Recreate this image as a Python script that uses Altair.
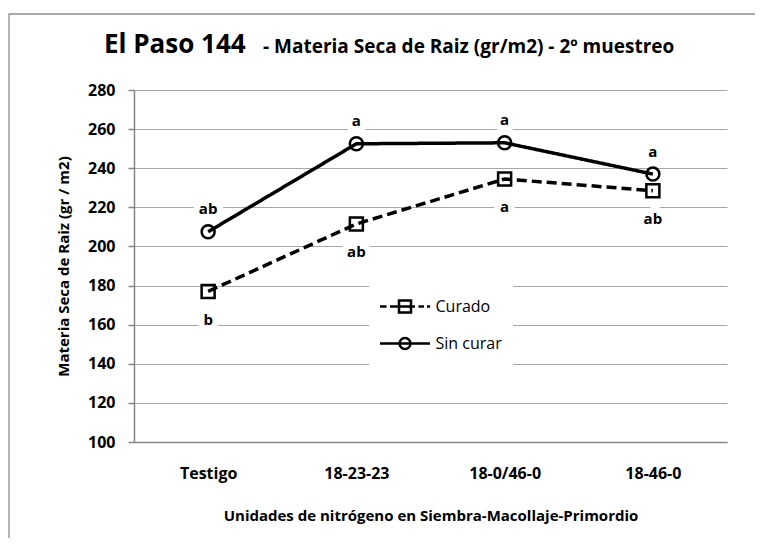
import altair as alt
import pandas as pd

categories = ["Testigo", "18-23-23", "18-0/46-0", "18-46-0"]
series_names = ["Curado", "Sin curar"]
curado = [177, 211.5, 234.5, 228.5]
sin_curar = [207.5, 252.5, 253, 237]
curado_letters = ["b", "ab", "a", "ab"]
sin_curar_letters = ["ab", "a", "a", "a"]
y_ticks = [100, 120, 140, 160, 180, 200, 220, 240, 260, 280]

title_main = "El Paso 144"
title_rest = "- Materia Seca de Raiz  (gr/m2) - 2º muestreo"
x_title = "Unidades de nitrógeno en Siembra-Macollaje-Primordio"
y_title = "Materia Seca  de Raiz (gr / m2)"

FONT = "Open Sans"
GRID = "#a6a6a6"
AXIS = "#868686"

rows = []
for s, vals, lets in [("Curado", curado, curado_letters), ("Sin curar", sin_curar, sin_curar_letters)]:
    for c, v, l in zip(categories, vals, lets):
        rows.append({"cat": c, "serie": s, "valor": v, "letra": l})
df = pd.DataFrame(rows)

W, H = 593, 352

x_enc = alt.X(
    "cat:N", sort=categories,
    scale=alt.Scale(type="point", padding=0.5),
    axis=alt.Axis(title=x_title, labelAngle=0, ticks=False, tickSize=0, grid=False,
                  domainColor=AXIS, domainWidth=1.5,
                  labelFont=FONT, labelFontSize=16, labelFontWeight="bold", labelColor="black",
                  labelPadding=31, labelBaseline="middle",
                  titleFont=FONT, titleFontSize=15, titleFontWeight="bold", titleColor="black",
                  titleX=W / 2, titleY=73, titleBaseline="middle"),
)
y_enc = alt.Y(
    "valor:Q",
    scale=alt.Scale(domain=[100, 280], nice=False, zero=False),
    axis=alt.Axis(title=y_title, values=y_ticks, grid=True, gridColor=GRID, gridWidth=1.2,
                  domainColor=AXIS, domainWidth=1.5, tickColor=AXIS, tickSize=6, tickWidth=1.5,
                  labelFont=FONT, labelFontSize=16, labelFontWeight="bold", labelColor="black",
                  labelPadding=13,
                  titleFont=FONT, titleFontSize=15, titleFontWeight="bold", titleColor="black",
                  titleX=-71, titleY=H / 2, titleBaseline="middle", titleAngle=270),
)

one = alt.Data(values=[{"k": 1}])

border = alt.Chart(one).mark_rect(filled=False, stroke="#8c8c8c", strokeWidth=1.3).encode(
    x=alt.value(-125), x2=alt.value(720), y=alt.value(-76), y2=alt.value(520)
)

base = alt.Chart(df)

lines = base.mark_line(color="black", strokeWidth=3.5).encode(
    x=x_enc, y=y_enc,
    strokeDash=alt.StrokeDash("serie:N", scale=alt.Scale(domain=series_names, range=[[10, 5], [1, 0]]), legend=None),
)

points = base.mark_point(filled=False, color="black", strokeWidth=2.5, size=169, opacity=1).encode(
    x=x_enc, y=y_enc,
    shape=alt.Shape("serie:N", scale=alt.Scale(domain=series_names, range=["square", "circle"]), legend=None),
)

path_curado = ("M-2.5,0H-1.85M-1.5,0H-0.65M0.65,0H1.0M1.35,0H1.9M2.2,0H2.5"
               "M-0.6,-0.6H0.6V0.6H-0.6ZM-0.6,0H0.6")
path_sin = "M-2.5,0H2.5M0.55,0A0.55,0.55,0,1,1,-0.55,0A0.55,0.55,0,1,1,0.55,0"

legend_layer = base.transform_filter("false").mark_point(
    filled=False, color="black", strokeWidth=2.5, size=400, opacity=1
).encode(
    x=x_enc, y=y_enc,
    shape=alt.Shape(
        "serie:N",
        scale=alt.Scale(domain=series_names, range=[path_curado, path_sin]),
        legend=alt.Legend(title=None, orient="none", legendX=235, legendY=194,
                          fillColor="white", padding=11,
                          symbolSize=400, symbolStrokeWidth=2.5, symbolFillColor="transparent",
                          symbolStrokeColor="black", symbolOpacity=1, symbolOffset=13.5,
                          labelOffset=19, labelFont=FONT, labelFontSize=16, labelColor="black",
                          rowPadding=14),
    ),
)

def labels(serie, dy, halo):
    props = dict(dy=dy, font=FONT, fontSize=15, fontWeight="bold", baseline="middle", align="center")
    if halo:
        props.update(color="white", stroke="white", strokeWidth=13, strokeJoin="round")
    else:
        props.update(color="black")
    return base.transform_filter(alt.datum.serie == serie).mark_text(**props).encode(
        x=x_enc, y=y_enc, text="letra:N"
    )

halo = labels("Sin curar", -22.5, True) + labels("Curado", 28.5, True)
texts = labels("Sin curar", -22.5, False) + labels("Curado", 28.5, False)

t1 = alt.Chart(one).mark_text(text=title_main, font=FONT, fontSize=26, fontWeight="bold",
                              align="left", baseline="alphabetic", color="black").encode(
    x=alt.value(-30), y=alt.value(-37))
t2 = alt.Chart(one).mark_text(text=title_rest, font=FONT, fontSize=19, fontWeight="bold",
                              align="left", baseline="alphabetic", color="black").encode(
    x=alt.value(129), y=alt.value(-37))

chart = alt.layer(border, halo, lines, points, texts, t1, t2, legend_layer).resolve_scale(
    shape="independent"
).properties(
    width=W, height=H,
    padding={"left": 126, "top": 82, "right": 28, "bottom": 96},
    autosize=alt.AutoSizeParams(type="none"),
    background="white",
).configure_view(strokeWidth=0)

chart.save("out.html", embed_options={"renderer": "svg", "actions": False})
